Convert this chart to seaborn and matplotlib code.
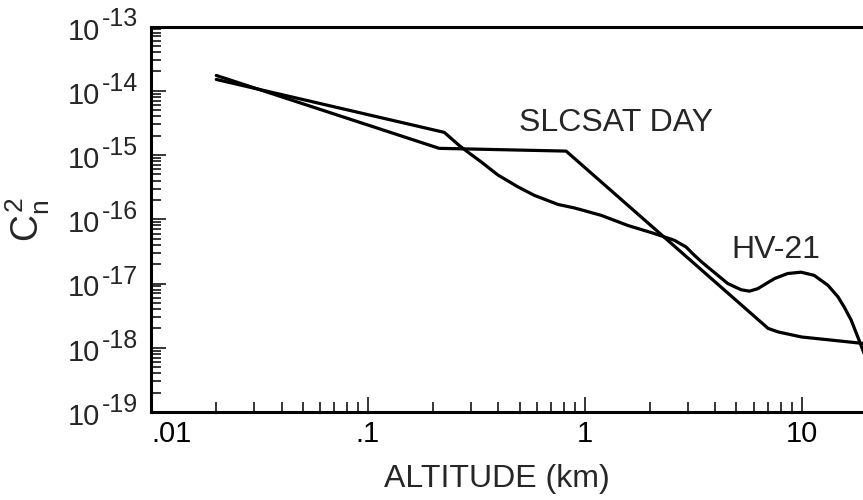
import matplotlib
matplotlib.use("Agg")
import matplotlib.pyplot as plt
import matplotlib.ticker as mticker
import numpy as np
import pandas as pd
import seaborn as sns

# ---- data ----
slc_x = [0.02, 0.213, 0.82, 7.0, 7.8, 10.0, 20.0]
slc_y = [1.73e-14, 1.27e-15, 1.15e-15, 2.0e-18, 1.76e-18, 1.47e-18, 1.15e-18]

hv_x = [0.02, 0.225, 0.264, 0.289, 0.333, 0.397, 0.491, 0.586, 0.752, 0.896,
        1.19, 1.58, 2.09, 2.59, 2.93, 3.2, 3.44, 3.69, 4.56, 5.25, 5.74, 6.27,
        7.48, 8.61, 9.93, 11.4, 13.2, 14.7, 15.7, 16.9, 18.4, 19.4, 20.0]
hv_y = [1.5e-14, 2.25e-15, 1.4e-15, 1.11e-15, 7.8e-16, 4.9e-16, 3.2e-16,
        2.35e-16, 1.7e-16, 1.5e-16, 1.15e-16, 8.0e-17, 6.0e-17, 4.7e-17,
        3.7e-17, 2.75e-17, 2.2e-17, 1.8e-17, 1.0e-17, 8.0e-18, 7.6e-18,
        8.3e-18, 1.19e-17, 1.43e-17, 1.5e-17, 1.34e-17, 9.4e-18, 6.2e-18,
        4.3e-18, 2.7e-18, 1.3e-18, 8.1e-19, 7.0e-19]

x_ticks = [0.01, 0.1, 1, 10]
x_tick_labels = [".01", ".1", "1", "10"]
y_exps = [-19, -18, -17, -16, -15, -14, -13]

sns.set_style("ticks")
plt.rcParams["font.family"] = ["Liberation Sans", "DejaVu Sans"]
plt.rcParams["mathtext.fontset"] = "custom"
plt.rcParams["mathtext.rm"] = "Liberation Sans"
plt.rcParams["mathtext.it"] = "Liberation Sans"
plt.rcParams["mathtext.bf"] = "Liberation Sans:bold"

PX = 0.72  # points per pixel at dpi=100

fig = plt.figure(figsize=(8.63, 5.0), dpi=100)
ax = fig.add_axes([151 / 863, 1 - 412 / 500, 716 / 863, (412 - 26.5) / 500])

df_slc = pd.DataFrame({"x": slc_x, "y": slc_y})
df_hv = pd.DataFrame({"x": hv_x, "y": hv_y})
sns.lineplot(data=df_slc, x="x", y="y", ax=ax, color="black", lw=2.3,
             sort=False, estimator=None)
sns.lineplot(data=df_hv, x="x", y="y", ax=ax, color="black", lw=2.3,
             sort=False, estimator=None)

ax.set_xscale("log")
ax.set_yscale("log")
ax.set_xlim(0.01, 20)
ax.set_ylim(1e-19, 1e-13)

ax.set_xticks(x_ticks)
ax.set_xticklabels(x_tick_labels)
ax.get_xticklabels()[0].set_horizontalalignment("left")
ax.set_yticks([10.0 ** e for e in y_exps])
ax.set_yticklabels([])
ax.xaxis.set_minor_locator(mticker.LogLocator(base=10, subs=np.arange(2, 10), numticks=20))
ax.yaxis.set_minor_locator(mticker.LogLocator(base=10, subs=np.arange(2, 10), numticks=20))
ax.xaxis.set_minor_formatter(mticker.NullFormatter())
ax.yaxis.set_minor_formatter(mticker.NullFormatter())

ax.tick_params(which="major", direction="in", length=11, width=1.1,
               labelsize=21, color="black", labelcolor="black")
ax.tick_params(which="minor", direction="in", length=7, width=1.1, color="black")
ax.tick_params(axis="x", which="major", pad=6)
ax.tick_params(top=False, right=False, which="both")

# y tick labels: "10" with a large superscript exponent
for e in y_exps:
    ax.annotate("10", xy=(0, 10.0 ** e), xycoords=("axes fraction", "data"),
                xytext=(-51 * PX, -13 * PX), textcoords="offset points",
                ha="right", va="baseline", fontsize=21, annotation_clip=False)
    ax.annotate("-%d" % abs(e), xy=(0, 10.0 ** e), xycoords=("axes fraction", "data"),
                xytext=(-49 * PX, 0), textcoords="offset points",
                ha="left", va="baseline", fontsize=18, annotation_clip=False)

for s in ax.spines.values():
    s.set_linewidth(2.2)
    s.set_color("black")
ax.spines["right"].set_visible(False)

ax.set_xlabel("ALTITUDE (km)", fontsize=23)
ax.xaxis.set_label_coords(0.483, -0.135)
ax.set_ylabel(r"$C_n^2$", fontsize=27)
ax.yaxis.set_label_coords(-0.138, 0.5)

ax.text(0.498, 3.1e-15, "SLCSAT DAY", fontsize=23, ha="left", va="center")
ax.text(4.72, 3.3e-17, "HV-21", fontsize=23, ha="left", va="center")

fig.savefig("out.png", dpi=100)
